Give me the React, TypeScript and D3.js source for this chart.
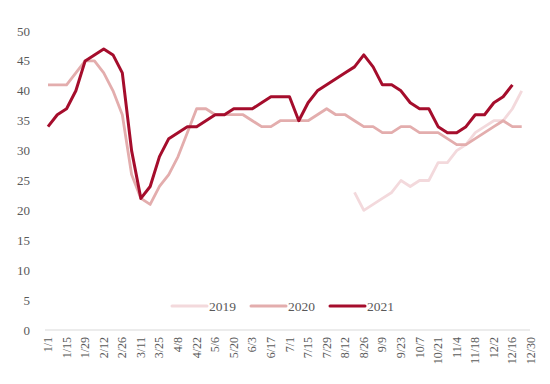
import React, { useRef, useEffect } from "react";
import * as d3 from "d3";

// weekly dates (53 weeks), every second one is labelled
const weeks = [
  "1/1", "1/8", "1/15", "1/22", "1/29", "2/5", "2/12", "2/19", "2/26", "3/4",
  "3/11", "3/18", "3/25", "4/1", "4/8", "4/15", "4/22", "4/29", "5/6", "5/13",
  "5/20", "5/27", "6/3", "6/10", "6/17", "6/24", "7/1", "7/8", "7/15", "7/22",
  "7/29", "8/5", "8/12", "8/19", "8/26", "9/2", "9/9", "9/16", "9/23", "9/30",
  "10/7", "10/14", "10/21", "10/28", "11/4", "11/11", "11/18", "11/25", "12/2", "12/9",
  "12/16", "12/23", "12/30",
];

const yTicks = [0, 5, 10, 15, 20, 25, 30, 35, 40, 45, 50];

// 2019 starts late in August
const start2019 = 33;
const values2019 = [23, 20, 21, 22, 23, 25, 24, 25, 25, 28, 28, 30, 31, 33, 34, 35, 35, 37, 40];

const values2020 = [
  41, 41, 41, 43, 45, 45, 43, 40, 36, 26, 22, 21, 24, 26, 29, 33, 37, 37, 36, 36,
  36, 36, 35, 34, 34, 35, 35, 35, 35, 36, 37, 36, 36, 35, 34, 34, 33, 33, 34, 34,
  33, 33, 33, 32, 31, 31, 32, 33, 34, 35, 34, 34,
];

const values2021 = [
  34, 36, 37, 40, 45, 46, 47, 46, 43, 30, 22, 24, 29, 32, 33, 34, 34, 35, 36, 36,
  37, 37, 37, 38, 39, 39, 39, 35, 38, 40, 41, 42, 43, 44, 46, 44, 41, 41, 40, 38,
  37, 37, 34, 33, 33, 34, 36, 36, 38, 39, 41,
];

const seriesNames = ["2019", "2020", "2021"];
const colors = ["#f3d9dc", "#e3adad", "#a50d2c"];

const App = () => {
  const svgRef = useRef<SVGSVGElement>(null);
  const width = 550;
  const height = 384;
  const margin = { top: 31, right: 19, bottom: 54, left: 48 };

  useEffect(() => {
    const series = [
      values2019.map((v, i) => ({ i: i + start2019, v })),
      values2020.map((v, i) => ({ i, v })),
      values2021.map((v, i) => ({ i, v })),
    ];

    const xScale = d3
      .scaleLinear()
      .domain([0, weeks.length - 1])
      .range([margin.left, width - margin.right]);

    const yScale = d3
      .scaleLinear()
      .domain([0, 50])
      .range([height - margin.bottom, margin.top]);

    const svg = d3.select(svgRef.current);
    svg.selectAll("*").remove();

    const font = "'Liberation Serif', 'Times New Roman', serif";

    // x axis line
    svg
      .append("line")
      .attr("x1", xScale(0) - 3)
      .attr("x2", xScale(weeks.length - 1) - 1)
      .attr("y1", yScale(0))
      .attr("y2", yScale(0))
      .attr("stroke", "#d9d9d9")
      .attr("stroke-width", 1);

    // y tick labels (no axis line)
    svg
      .append("g")
      .selectAll("text")
      .data(yTicks)
      .join("text")
      .attr("x", 30)
      .attr("y", (d) => yScale(d))
      .attr("dy", "0.35em")
      .attr("text-anchor", "end")
      .attr("font-family", font)
      .attr("font-size", "13px")
      .attr("fill", "#595959")
      .text((d) => d);

    // x tick labels, rotated
    svg
      .append("g")
      .selectAll("text")
      .data(weeks.map((w, i) => ({ w, i })).filter((d) => d.i % 2 === 0))
      .join("text")
      .attr(
        "transform",
        (d) => `translate(${xScale(d.i) + 4},${yScale(0) + 7}) rotate(-90)`
      )
      .attr("text-anchor", "end")
      .attr("font-family", font)
      .attr("font-size", "12px")
      .attr("fill", "#595959")
      .text((d) => d.w);

    // lines
    const line = d3
      .line<{ i: number; v: number }>()
      .x((p) => xScale(p.i))
      .y((p) => yScale(p.v));

    svg
      .append("g")
      .selectAll("path")
      .data(series)
      .join("path")
      .attr("fill", "none")
      .attr("stroke", (d, k) => colors[k])
      .attr("stroke-width", (d, k) => (k === 2 ? 3 : 2.8))
      .attr("stroke-linejoin", "round")
      .attr("d", (d) => line(d));

    // legend
    const legendX = [172, 251, 330];
    const legendY = 306;
    const legend = svg.append("g");

    legend
      .selectAll("line")
      .data(seriesNames)
      .join("line")
      .attr("x1", (d, k) => legendX[k])
      .attr("x2", (d, k) => legendX[k] + 35)
      .attr("y1", legendY)
      .attr("y2", legendY)
      .attr("stroke", (d, k) => colors[k])
      .attr("stroke-width", 3)
      .attr("stroke-linecap", "round");

    legend
      .selectAll("text")
      .data(seriesNames)
      .join("text")
      .attr("x", (d, k) => legendX[k] + 37)
      .attr("y", legendY)
      .attr("dy", "0.35em")
      .attr("font-family", font)
      .attr("font-size", "13.5px")
      .attr("fill", "#595959")
      .text((d) => d);
  }, []);

  return (
    <svg
      ref={svgRef}
      width={width}
      height={height}
      style={{ position: "absolute", left: 0, top: 0, background: "#fff" }}
    ></svg>
  );
};

export default App;
